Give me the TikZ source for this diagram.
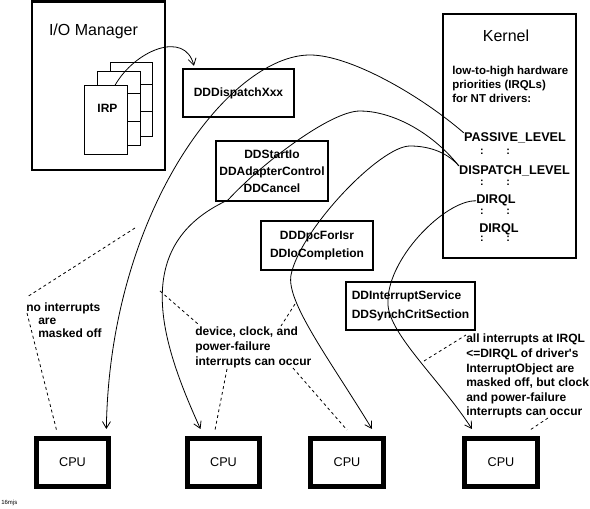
\documentclass[tikz,border=0pt]{standalone}
\usepackage{fontspec}
\setmainfont{Liberation Sans}
\usetikzlibrary{arrows.meta,calc,positioning}

\begin{document}
\begin{tikzpicture}[x=0.75pt,y=-0.75pt]
    \tikzset{
        box/.style={draw=black, line width=1.6pt, inner sep=0pt, font=\bfseries\fontsize{9}{12.75}\selectfont},
        cpu/.style={draw=black, line width=3.75pt, minimum width=54.5pt, minimum height=36pt, font=\fontsize{9.5}{11}\selectfont},
        page/.style={draw=black, line width=0.75pt, fill=white, inner sep=0pt},
        lvl/.style={font=\bfseries\fontsize{9.5}{11}\selectfont, inner sep=0pt, anchor=base},
        note/.style={font=\bfseries\fontsize{9}{11}\selectfont, align=left, inner sep=0pt, anchor=north west},
        call arrow/.style={-{Straight Barb[length=5pt,width=6pt]}, line width=0.6pt},
        hint/.style={line width=0.6pt, dash pattern=on 2.2pt off 2.2pt},
    }
    \useasboundingbox (0,0) rectangle (590,509);

    % I/O Manager and the IRP stack
    \node[box, line width=2pt, minimum width=99.75pt, minimum height=126.4pt] (iomgr) at (98.5,85.75) {};
    \node[anchor=base, font=\fontsize{12}{14}\selectfont] (iomgrlbl) at (93.5,36) {I/O Manager};
    \node[page, minimum width=31.5pt, minimum height=55.5pt] (irpb) at (131,100) {};
    \foreach \d in {22,49}
        \draw[line width=0.75pt] ($(irpb.north west)+(0,\d)$) -- ($(irpb.north east)+(0,\d)$);
    \node[page, minimum width=32.25pt, minimum height=55.5pt] (irpm) at (118.5,109) {};
    \foreach \d in {22,50}
        \draw[line width=0.75pt] ($(irpm.north west)+(0,\d)$) -- ($(irpm.north east)+(0,\d)$);
    \node[page, minimum width=32.25pt, minimum height=51.75pt] (irp) at (105.5,120.5) {};
    \node[font=\bfseries\fontsize{9}{11}\selectfont] (irplbl) at (107.5,108) {IRP};

    % Kernel and the IRQLs
    \node[box, line width=2pt, minimum width=99.75pt, minimum height=183pt] (kernel) at (509.5,136) {};
    \node[anchor=base, font=\fontsize{12}{14}\selectfont] (kernellbl) at (506,42) {Kernel};
    \node[note, font=\bfseries\fontsize{8.6}{10.5}\selectfont] (irqlnote) at (452,66) {low-to-high hardware\\priorities (IRQLs)\\for NT drivers:};
    \node[lvl] (passive) at (515,142) {PASSIVE\_LEVEL};
    \node[lvl] (dispatch) at (514.5,175) {DISPATCH\_LEVEL};
    \node[lvl] (dirqla) at (496,204) {DIRQL};
    \node[lvl] (dirqlb) at (499,233) {DIRQL};
    \foreach \y [count=\i] in {155,186,215,242}
        \node[lvl, font=\bfseries\fontsize{8}{9}\selectfont] (gap\i) at (495,\y) {:\hspace{17pt}:};

    % driver routines
    \node[box, minimum width=83.25pt, minimum height=36pt] (dispatchxxx) at (238.5,93) {DDDispatchXxx};
    \node[box, minimum width=84pt, minimum height=45pt, align=center] (startio) at (272,171) {DDStartIo\\DDAdapterControl\\DDCancel};
    \node[box, minimum width=84pt, minimum height=36.75pt, align=center, font=\bfseries\fontsize{9}{13.5}\selectfont] (dpcforisr) at (317,245.5) {DDDpcForIsr\\DDIoCompletion};
    \node[box, minimum width=96.75pt, minimum height=36pt, align=left, font=\bfseries\fontsize{9}{14.25}\selectfont] (isr) at (410.5,306) {DDInterruptService\\DDSynchCritSection};

    \foreach \x [count=\i] in {72.5,223.5,347,501}
        \node[cpu] (cpu\i) at (\x,462.5) {CPU};

    % notes
    \node[note, font=\bfseries\fontsize{9}{9.75}\selectfont] (nomask) at (26,303) {no interrupts\\\hspace{9pt}are\\\hspace{9pt}masked off};
    \node[note, font=\bfseries\fontsize{9}{10.9}\selectfont] (devnote) at (195,327) {device, clock, and\\power-failure\\interrupts can occur};
    \node[note, font=\bfseries\fontsize{9}{10.95}\selectfont] (allnote) at (466,334) {all interrupts at IRQL\\<=DIRQL of driver\textquotesingle s\\InterruptObject are\\masked off, but clock\\and power-failure\\interrupts can occur};
    \node[anchor=base west, inner sep=0pt, font=\fontsize{4.5}{5}\selectfont] (figtag) at (1,505) {16mjs};

    % calls
    \draw[call arrow] (irp.75) .. controls (135,50) and (185,30) .. ($(dispatchxxx.north west)+(12,-2)$);
    \draw[call arrow] (passive.north west) .. controls (420,95) and (350,55) .. (310,55) .. controls (230,55) and (110,210) .. ($(cpu1.north east)+(-5,-7)$);
    \draw[call arrow] (dispatch.north west) .. controls (430,130) and (390,111) .. (360,111) .. controls (330,111) and (260,165) .. (228,200) .. controls (130,245) and (160,340) .. ($(cpu2.north)+(-23,-7)$);
    \draw[call arrow] (dispatch.north west) .. controls (445,150) and (425,146) .. (410,146) .. controls (380,146) and (300,230) .. (291,275) .. controls (286,302) and (330,360) .. ($(cpu3.north)+(25,-7)$);
    \draw[call arrow] (dirqla.west) .. controls (445,200) and (385,260) .. (388,305) .. controls (390,335) and (440,380) .. ($(cpu4.north)+(-29,-7)$);

    % pointers from the notes
    \coordinate (onpassive) at (135,228);
    \coordinate (nomasktop) at (27,297);
    \coordinate (nomaskleft) at (27,313);
    \coordinate (cpu1left) at (57,432);
    \coordinate (onstartio) at (160,291);
    \coordinate (devtop) at (198,324);
    \coordinate (devbottom) at (227,369);
    \coordinate (cpu2left) at (215,430);
    \coordinate (ondpc) at (295,304);
    \coordinate (devright) at (281,326);
    \coordinate (devend) at (293,368);
    \coordinate (cpu3left) at (347,430);
    \coordinate (onisr) at (424,361);
    \coordinate (alltop) at (466,335);
    \coordinate (allend) at (548,418);
    \coordinate (cpu4right) at (530,430);
    \draw[hint] (onpassive) -- (nomasktop);
    \draw[hint] (nomaskleft) -- (cpu1left);
    \draw[hint] (onstartio) -- (devtop);
    \draw[hint] (devbottom) -- (cpu2left);
    \draw[hint] (ondpc) -- (devright);
    \draw[hint] (devend) -- (cpu3left);
    \draw[hint] (onisr) -- (alltop);
    \draw[hint] (allend) -- (cpu4right);
\end{tikzpicture}
\end{document}
